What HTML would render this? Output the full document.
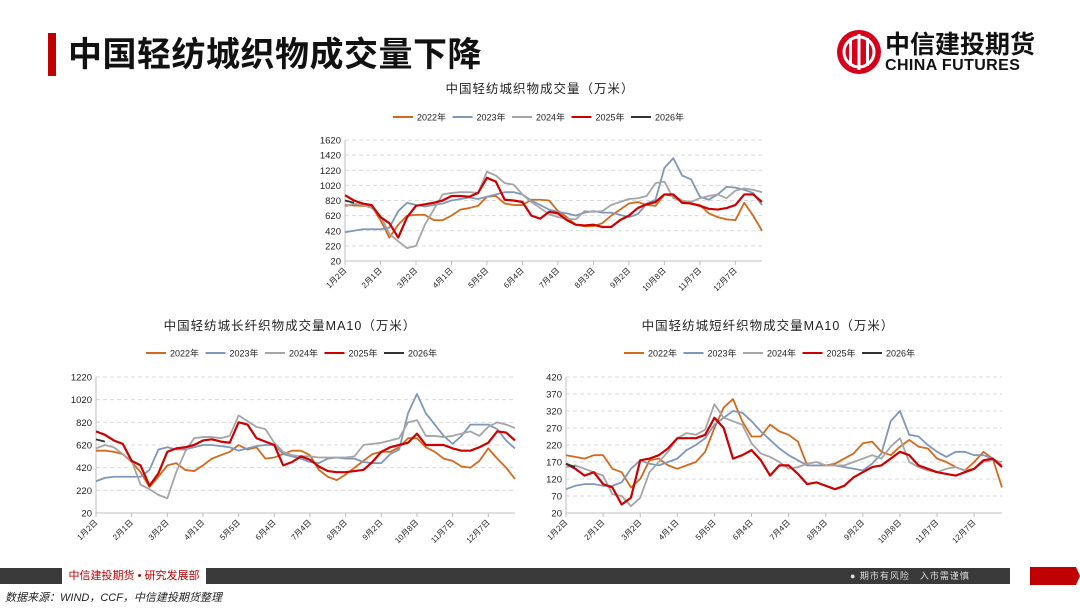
<!DOCTYPE html>
<html><head><meta charset="utf-8">
<style>
body{margin:0;width:1080px;height:608px;overflow:hidden;background:#fff;font-family:"Liberation Sans","Noto Sans CJK SC",sans-serif;position:relative}
.abs{position:absolute}
</style></head><body>
<div class="abs" style="left:48px;top:33px;width:8px;height:43px;background:#c00000"></div>
<div class="abs" style="left:68px;top:30px;font-size:34px;font-weight:bold;color:#111;font-family:'Noto Sans CJK SC',sans-serif;line-height:44px;letter-spacing:0.5px">中国轻纺城织物成交量下降</div>
<div class="abs" style="left:835px;top:28px;width:200px;height:50px">
 <svg width="50" height="50" style="position:absolute;left:0;top:0"><circle cx="24" cy="24" r="22" fill="#d7001a"/><circle cx="24" cy="24" r="15" fill="none" stroke="#fff" stroke-width="3"/><rect x="14" y="10" width="3" height="28" fill="#fff"/><rect x="22.5" y="6" width="3" height="36" fill="#fff"/><rect x="31" y="10" width="3" height="28" fill="#fff"/></svg>
 <div class="abs" style="left:50px;top:0;font-size:25px;font-weight:bold;font-family:'Noto Sans CJK SC',sans-serif;line-height:30px;color:#111">中信建投期货</div>
 <div class="abs" style="left:50px;top:29px;font-size:16px;font-weight:bold;line-height:18px;color:#111;letter-spacing:0.4px">CHINA FUTURES</div>
</div>
<svg id="c" class="abs" style="left:0;top:0" width="1080" height="608"></svg>
<div class="abs" style="left:0;top:568px;width:1010px;height:16px;background:#3a3a3a"></div>
<div class="abs" style="left:62px;top:567px;width:144px;height:18px;background:#fff;color:#c00000;font-size:11px;line-height:18px;text-align:center">中信建投期货 • 研究发展部</div>
<div class="abs" style="left:850px;top:568px;color:#ddd;font-size:9px;line-height:16px;letter-spacing:1px">● 期市有风险　入市需谨慎</div>
<div class="abs" style="left:1030px;top:567px;width:50px;height:18px;background:#c00000;clip-path:polygon(0 0,92% 0,100% 50%,92% 100%,0 100%)"></div>
<div class="abs" style="left:5px;top:589px;font-size:11px;font-style:italic;color:#222">数据来源：WIND，CCF，中信建投期货整理</div>
<script>
const months=["1月2日","2月1日","3月2日","4月1日","5月5日","6月4日","7月4日","8月3日","9月2日","10月8日","11月7日","12月7日"];
const seriesNames=["2022年","2023年","2024年","2025年","2026年"];
const colors=["#d4691e","#7f97b8","#a5a5a5","#cc0000","#333333"];
// chart 1: total
const t22=[760,755,750,745,560,330,500,620,630,630,560,560,620,700,720,750,870,880,780,760,760,830,830,820,680,600,500,480,480,520,620,700,780,800,760,750,900,880,820,780,760,650,600,570,560,790,620,420];
const t23=[400,420,440,440,440,460,680,790,760,740,760,780,820,840,860,840,870,900,930,930,900,820,760,700,670,650,620,660,680,660,660,630,600,640,780,830,1250,1380,1150,1100,870,830,900,1000,990,960,920,760];
const t24=[740,780,760,720,620,380,280,190,220,500,700,900,920,930,930,920,1200,1150,1050,1030,900,800,720,640,600,580,570,680,670,680,760,800,840,850,880,1050,1070,850,820,800,850,880,900,850,950,980,960,930];
const t25=[890,820,780,760,600,520,330,600,750,770,790,820,880,880,870,920,1120,1070,830,820,800,620,580,670,650,560,500,490,500,470,470,560,620,720,770,800,900,900,790,780,750,710,700,720,760,900,900,800];
const t26=[820,790];
const tTicks=[20,220,420,620,820,1020,1220,1420,1620];
// chart 2: long fiber MA10
const l22=[570,570,560,540,470,380,250,340,440,460,400,390,440,500,530,560,620,580,600,500,510,540,570,570,530,400,340,310,360,420,480,540,560,560,600,680,680,600,560,500,480,430,420,480,590,500,420,320];
const l23=[300,330,340,340,340,340,400,580,600,580,580,600,620,620,610,600,570,590,610,620,620,540,520,500,470,460,500,510,500,500,470,460,460,540,580,900,1070,900,800,700,630,700,800,800,800,760,660,590];
const l24=[590,620,600,540,480,270,230,180,150,380,560,680,690,690,680,700,880,830,780,760,640,560,530,520,520,510,510,510,510,520,620,630,640,660,680,820,840,700,700,690,700,720,740,700,780,820,800,770];
const l25=[740,710,660,630,480,440,260,370,560,590,600,620,660,670,650,640,820,800,680,650,620,440,470,520,490,430,390,380,380,390,400,470,560,600,620,640,720,620,620,620,590,570,570,600,640,740,730,660];
const l26=[670,650];
const lTicks=[20,220,420,620,820,1020,1220];
// chart 3: short fiber MA10
const s22=[190,185,180,190,190,150,140,95,120,175,180,160,150,160,170,200,270,330,355,290,245,245,280,260,250,230,160,160,160,165,180,195,225,230,200,190,215,235,215,210,180,170,155,145,170,200,180,95];
const s23=[90,100,105,105,100,100,110,150,175,165,160,170,180,205,220,240,280,300,320,315,290,260,235,210,190,175,160,160,160,160,155,150,145,165,195,290,320,250,245,220,200,185,200,200,190,190,180,160];
const s24=[155,160,150,140,130,75,70,40,65,140,170,200,240,255,250,265,340,300,290,280,225,195,185,170,150,155,165,170,160,160,160,170,180,190,180,215,240,170,155,145,140,150,155,145,150,170,175,170];
const s25=[165,150,130,140,105,95,45,65,175,180,190,210,240,240,240,250,300,270,180,190,205,175,130,160,160,135,105,110,100,90,100,125,140,155,160,180,200,190,160,150,140,135,130,140,150,175,180,155];
const s26=[165,155];
const sTicks=[20,70,120,170,220,270,320,370,420];

const NS="http://www.w3.org/2000/svg";
const svg=document.getElementById('c');
function mk(tag,attrs,parent){const e=document.createElementNS(NS,tag);for(const k in attrs)e.setAttribute(k,attrs[k]);(parent||svg).appendChild(e);return e;}
function txt(s,attrs,parent){const e=mk('text',attrs,parent);e.textContent=s;return e;}
function chart(id,title,cx,titleY,legY,legX,L,R,T,B,ticks,series){
  const g=mk('g',{});
  
  
  const t=txt(title,{x:cx,y:titleY,'text-anchor':'middle','font-size':12.5,fill:'#222','letter-spacing':'1'},g);
  
  
  const lw=59.5;
  seriesNames.forEach((n,i)=>{
    const lg=mk('g',{},g);
    
    
    const x=legX+i*lw;
    mk('line',{x1:x,x2:x+20,y1:legY,y2:legY,stroke:colors[i],'stroke-width':2},lg);
    txt(n,{x:x+24,y:legY+3.5,'font-size':9,fill:'#222'},lg);
  });
  const mn=ticks[0],mx=ticks[ticks.length-1];
  const ys=v=>B-(v-mn)/(mx-mn)*(B-T);
  const N=48;
  const xs=i=>L+i*(R-L)/(N-1);
  ticks.forEach(v=>{
    const y=ys(v);
    if(v!==mn){const gl=mk('line',{x1:L,x2:R,y1:y,y2:y,stroke:'#d9d9d9','stroke-dasharray':'4,3','stroke-width':1},g);
      
      }
    const tl=txt(String(v),{x:L-4,y:y+3.5,'text-anchor':'end','font-size':9.5,fill:'#222'},g);
    
    
  });
  mk('line',{x1:L,x2:L,y1:T,y2:B,stroke:'#bfbfbf'},g);
  mk('line',{x1:L,x2:R,y1:B,y2:B,stroke:'#bfbfbf'},g);
  months.forEach((m,j)=>{
    const x=xs(j*4);
    mk('line',{x1:x,x2:x,y1:B,y2:B+4,stroke:'#bfbfbf'},g);
    const xl=txt(m,{x:x+2,y:B+10,'text-anchor':'end','font-size':8,fill:'#222',transform:`rotate(-45 ${x+2} ${B+10})`},g);
    
    
  });
  series.forEach((arr,i)=>{
    const p=mk('polyline',{points:arr.map((v,k)=>xs(k)+','+ys(v)).join(' '),fill:'none',stroke:colors[i],'stroke-width':i===3?2.2:1.8,'stroke-linejoin':'round'},g);
    
    
  });
}
chart('total-volume-chart','中国轻纺城织物成交量（万米）',540,93,117,393,345,762,140,261,tTicks,[t22,t23,t24,t25,t26]);
chart('long-fiber-chart','中国轻纺城长纤织物成交量MA10（万米）',290,330,353,146,96,515,377,513,lTicks,[l22,l23,l24,l25,l26]);
chart('short-fiber-chart','中国轻纺城短纤织物成交量MA10（万米）',768,330,353,624,566,1002,377,513,sTicks,[s22,s23,s24,s25,s26]);
</script>
</body></html>
